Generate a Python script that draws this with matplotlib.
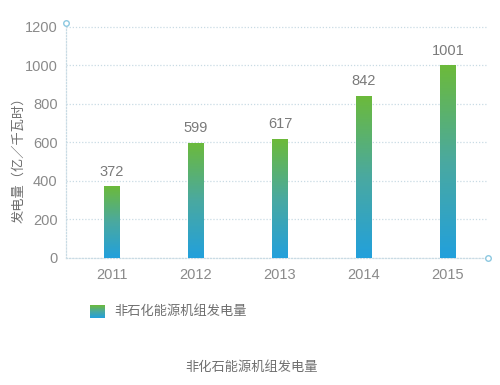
import numpy as np
import matplotlib
matplotlib.use('Agg')
import matplotlib.pyplot as plt
from matplotlib.colors import LinearSegmentedColormap

plt.rcParams['font.family'] = ['Liberation Sans', 'Noto Sans CJK SC', 'DejaVu Sans']

# data
years = ['2011', '2012', '2013', '2014', '2015']
values = [372, 599, 617, 842, 1001]
y_ticks = [0, 200, 400, 600, 800, 1000, 1200]
y_label = '发电量（亿／千瓦时）'
legend_label = '非石化能源机组发电量'
title = '非化石能源机组发电量'

TEXT = '#8a8a8a'
GRID = '#c9dbe4'
cmap = LinearSegmentedColormap.from_list('bar', ['#22a0dc', '#4aa9a0', '#6cba3a'])

fig = plt.figure(figsize=(5, 3.85), dpi=100)
ax = fig.add_axes([0.132, 0.33, 0.844, 0.61])

x = np.arange(len(years))
bars = ax.bar(x, values, width=0.19, color='none', edgecolor='none', zorder=3)

grad = np.linspace(0, 1, 256).reshape(-1, 1)
for b in bars:
    x0, w, h = b.get_x(), b.get_width(), b.get_height()
    im = ax.imshow(grad, cmap=cmap, origin='lower', aspect='auto',
                   extent=(x0, x0 + w, 0, h), zorder=3)
    im.set_clip_path(b)
    ax.text(x0 + w / 2, h + 40, str(int(h)), ha='center', va='bottom',
            fontsize=10.5, color='#7a7a7a')

ax.set_xlim(-0.548, 4.476)
ax.set_ylim(0, 1220)
ax.set_xticks(x)
ax.set_xticklabels(years)
ax.set_yticks(y_ticks)
ax.tick_params(length=0, labelsize=10.5, labelcolor=TEXT)
ax.tick_params(axis='x', pad=7)
ax.tick_params(axis='y', pad=6)

ax.grid(axis='y', color=GRID, linestyle=(0, (1, 1.5)), linewidth=0.9, zorder=0)
for s in ['top', 'right']:
    ax.spines[s].set_visible(False)
for s in ['left', 'bottom']:
    ax.spines[s].set_color(GRID)
    ax.spines[s].set_linestyle((0, (1, 1.5)))
    ax.spines[s].set_linewidth(0.9)

# hollow circles at axis ends
ax.plot([0], [1], 'o', transform=ax.transAxes, ms=4, mfc='white',
        mec='#8cc8e0', mew=1, clip_on=False, zorder=5)
ax.plot([1], [0], 'o', transform=ax.transAxes, ms=4, mfc='white',
        mec='#8cc8e0', mew=1, clip_on=False, zorder=5)

ax.set_ylabel(y_label, fontsize=9.5, color='#6f6f6f')
ax.yaxis.set_label_coords(-0.097, 0.43)

# legend with gradient swatch
lax = fig.add_axes([90 / 500, 1 - 318 / 385, 15 / 500, 13 / 385])
lax.imshow(grad, cmap=cmap, origin='lower', aspect='auto')
lax.axis('off')
fig.text(114 / 500, 1 - 312 / 385, legend_label, fontsize=9.5,
         color='#6f6f6f', va='center', ha='left')

fig.text(252 / 500, 1 - 368 / 385, title, fontsize=9.5,
         color='#6f6f6f', va='center', ha='center')

fig.savefig('out.png', dpi=100, facecolor='white')
